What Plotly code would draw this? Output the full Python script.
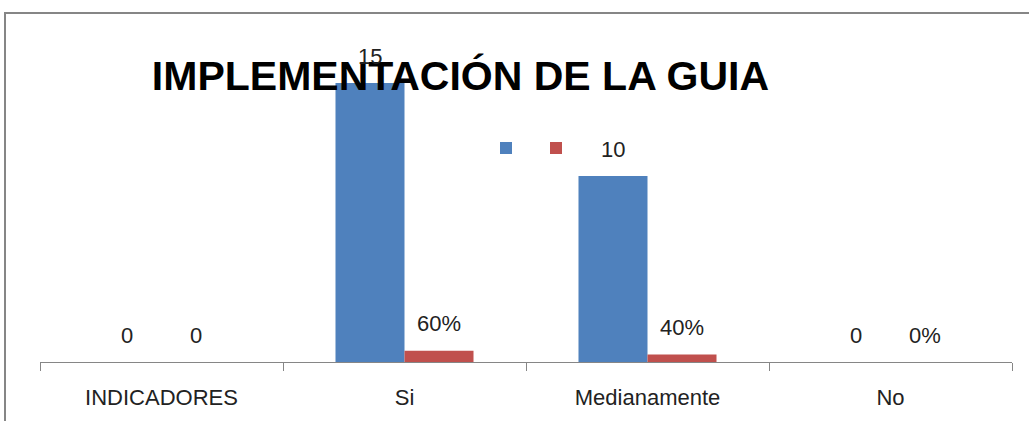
import plotly.graph_objects as go

categories = ["INDICADORES", "Si", "Medianamente", "No"]
blue_values = [0, 15, 10, 0]
red_values = [0, 0.6, 0.4, 0]
blue_labels = ["0", "15", "10", "0"]
red_labels = ["0", "60%", "40%", "0%"]
title_text = "IMPLEMENTACIÓN DE LA GUIA"

BLUE = "#4F81BD"
RED = "#C0504D"
FONT = "Liberation Sans, Arial, sans-serif"

W, H = 1029, 421
ML, MR, MT, MB = 40, 17, 30, 59
plot_h = H - MT - MB
px_per_unit = 18.6
ymax = plot_h / px_per_unit

fig = go.Figure()
fig.add_trace(go.Bar(x=categories, y=blue_values, name=" ", marker=dict(color=BLUE, line=dict(width=0))))
fig.add_trace(go.Bar(x=categories, y=red_values, name=" ", marker=dict(color=RED, line=dict(width=0))))

plot_w = W - ML - MR
bar_w_px = 69
annotations = []
for labels, values, sign in ((blue_labels, blue_values, -1), (red_labels, red_values, 1)):
    for c, v, t in zip(categories, values, labels):
        annotations.append(dict(
            x=c, y=v, xref="x", yref="y", text=t, showarrow=False,
            xshift=sign * bar_w_px / 2, yshift=27, yanchor="middle",
            font=dict(family=FONT, size=22, color="#222222"),
        ))

fig.update_layout(
    width=W, height=H,
    margin=dict(l=ML, r=MR, t=MT, b=MB),
    paper_bgcolor="white", plot_bgcolor="white",
    barmode="group", bargap=0.432, bargroupgap=0,
    title=dict(text="<b>" + title_text + "</b>", x=460.5 / W, xref="container", xanchor="center",
               y=1 - 76 / H, yref="container", yanchor="middle",
               font=dict(family=FONT, size=41, color="black")),
    showlegend=True,
    legend=dict(orientation="h", x=(486 - ML) / plot_w, xanchor="left",
                y=(H - MB - 148) / plot_h, yanchor="middle",
                font=dict(family=FONT, size=20), bgcolor="rgba(0,0,0,0)",
                itemwidth=30, entrywidth=5, traceorder="normal"),
    annotations=annotations,
    xaxis=dict(showline=True, linecolor="#868686", linewidth=1, ticks="outside",
               tickson="boundaries", ticklen=8, tickcolor="#868686",
               ticklabelstandoff=16,
               tickfont=dict(family=FONT, size=22, color="#222222"), showgrid=False,
               fixedrange=True),
    yaxis=dict(range=[0, ymax], visible=False, showgrid=False, fixedrange=True),
    shapes=[dict(type="rect", xref="paper", yref="paper",
                 x0=(5 - ML) / plot_w, x1=(W + 20 - ML) / plot_w,
                 y0=(H - MB - (H + 20)) / plot_h, y1=(H - MB - 13) / plot_h,
                 line=dict(color="#868686", width=2), fillcolor="rgba(0,0,0,0)", layer="below")],
)

fig.write_html("out.html", config={"displayModeBar": False},
               post_script="document.body.style.margin='0';document.body.style.overflow='hidden';")
